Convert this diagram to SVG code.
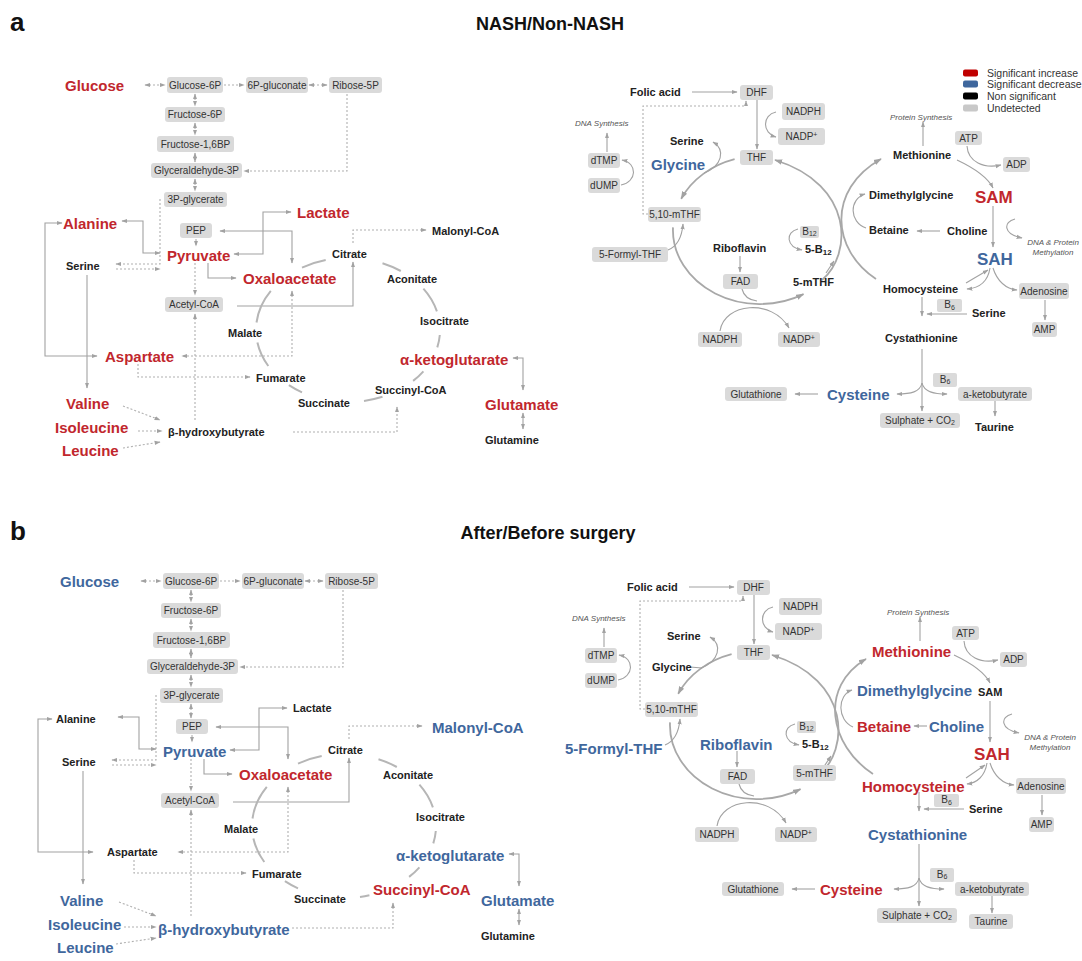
<svg xmlns="http://www.w3.org/2000/svg" width="1082" height="961" viewBox="0 0 1082 961">
<defs>
<style>
text{font-family:"Liberation Sans",Arial,Helvetica,sans-serif;dominant-baseline:central}
.T{font-size:18px;font-weight:700;fill:#111}
.P{font-size:26px;font-weight:700;fill:#111}
.B{font-size:15px;font-weight:700}
.H{font-size:17px;font-weight:700}
.S{font-size:11px;font-weight:700;fill:#222}
.r{fill:#c1272d}
.u{fill:#3f679d}
.bx rect{fill:#dadada}
.bt{font-size:10px;fill:#333;text-anchor:middle}
.it{font-size:8px;font-style:italic;fill:#555}
.lg{font-size:10.5px;fill:#333}
.ln{fill:none;stroke:#a2a2a2;stroke-width:1.1}
.dt{fill:none;stroke:#b0b0b0;stroke-width:1.1;stroke-dasharray:2 2}
.arc{fill:none;stroke:#b6b6b6;stroke-width:2}
.cy{fill:none;stroke:#a8a8a8;stroke-width:1.8}
</style>
<marker id="m" viewBox="0 0 10 10" refX="9" refY="5" markerWidth="6" markerHeight="6" orient="auto-start-reverse" markerUnits="userSpaceOnUse"><path d="M0,1.5L10,5L0,8.5z" fill="#a2a2a2"/></marker>
<marker id="mc" viewBox="0 0 10 10" refX="9" refY="5" markerWidth="8" markerHeight="8" orient="auto-start-reverse" markerUnits="userSpaceOnUse"><path d="M0,1.5L10,5L0,8.5z" fill="#a2a2a2"/></marker>
</defs>
<rect width="1082" height="961" fill="#fff"/>

<!-- titles -->
<text class="P" x="10" y="22">a</text>
<text class="T" x="550" y="24" text-anchor="middle">NASH/Non-NASH</text>
<text class="P" x="10" y="531">b</text>
<text class="T" x="548" y="533" text-anchor="middle">After/Before surgery</text>

<!-- legend -->
<g id="legend">
<rect x="963" y="69.5" width="15" height="7" rx="2" fill="#c00000"/>
<rect x="963" y="80.5" width="15" height="7" rx="2" fill="#3f679d"/>
<rect x="963" y="92.5" width="15" height="7" rx="2" fill="#000"/>
<rect x="963" y="104.5" width="15" height="7" rx="2" fill="#c8c8c8"/>
<text class="lg" x="987" y="73">Significant increase</text>
<text class="lg" x="987" y="84">Significant decrease</text>
<text class="lg" x="987" y="96">Non significant</text>
<text class="lg" x="987" y="108">Undetected</text>
</g>

<!-- ================= PANEL A connectors ================= -->
<g id="a-connectors">
<path class="dt" d="M145,85H165" marker-start="url(#m)" marker-end="url(#m)"/>
<path class="dt" d="M224,85H244" marker-end="url(#m)"/>
<path class="dt" d="M309,85H327" marker-start="url(#m)" marker-end="url(#m)"/>
<path class="dt" d="M195,94V106" marker-start="url(#m)" marker-end="url(#m)"/>
<path class="dt" d="M195,123V135" marker-start="url(#m)" marker-end="url(#m)"/>
<path class="dt" d="M195,153V162" marker-start="url(#m)" marker-end="url(#m)"/>
<path class="dt" d="M195,179V191" marker-start="url(#m)" marker-end="url(#m)"/>
<path class="dt" d="M347,94V171H244" marker-end="url(#m)"/>
<path class="dt" d="M160,199V264H116" marker-end="url(#m)"/>
<path class="dt" d="M116,269H160" marker-end="url(#m)"/>
<path class="dt" d="M196,239V246" marker-end="url(#m)"/>
<path class="ln" d="M122,221H143V253H160" marker-start="url(#m)" marker-end="url(#m)"/>
<path class="ln" d="M62,223H45V356H97" marker-start="url(#m)" marker-end="url(#m)"/>
<path class="ln" d="M234,254H263V212H291" marker-start="url(#m)" marker-end="url(#m)"/>
<path class="ln" d="M220,231H292V263" marker-start="url(#m)" marker-end="url(#m)"/>
<path class="ln" d="M208,263V278H236" marker-end="url(#m)"/>
<path class="dt" d="M195,263V295" marker-end="url(#m)"/>
<path class="ln" d="M237,306H353V262" marker-end="url(#m)"/>
<path class="dt" d="M353,243V230H426" marker-end="url(#m)"/>
<path class="dt" d="M292,291V356H182" marker-start="url(#m)" marker-end="url(#m)"/>
<path class="dt" d="M138,364V377H250" marker-end="url(#m)"/>
<path class="dt" d="M195,420V314" marker-end="url(#m)"/>
<path class="ln" d="M87,275V388" marker-end="url(#m)"/>
<path class="dt" d="M123,406L160,420" marker-end="url(#m)"/>
<path class="dt" d="M138,431H162" marker-end="url(#m)"/>
<path class="dt" d="M123,448L160,442" marker-end="url(#m)"/>
<path class="dt" d="M293,432H397V407" marker-end="url(#m)"/>
<path class="ln" d="M513,358H523V390" marker-start="url(#m)" marker-end="url(#m)"/>
<path class="ln" d="M523,413V429" marker-start="url(#m)" marker-end="url(#m)"/>
<path class="arc" d="M302,267.6A92,72 0 0 1 325.7,260.1"/>
<path class="arc" d="M382.5,263.2A92,72 0 0 1 400.8,271"/>
<path class="arc" d="M423.4,288.7A92,72 0 0 1 436.9,311.4"/>
<path class="arc" d="M439.8,335A92,72 0 0 1 437.3,347.4"/>
<path class="arc" d="M423.4,371.3A92,72 0 0 1 413.1,380.9"/>
<path class="arc" d="M382.5,396.8A92,72 0 0 1 364,400.9"/>
<path class="arc" d="M302,392.4A92,72 0 0 1 288.9,385.2"/>
<path class="arc" d="M268.3,366A92,72 0 0 1 257.4,342.5"/>
<path class="arc" d="M256.5,322.5A92,72 0 0 1 270.8,290.8"/>
<!-- right -->
<path class="ln" d="M692,92H737" marker-end="url(#m)"/>
<path class="ln" d="M757,100V149" marker-end="url(#m)"/>
<path class="ln" d="M776,112C762,115 762,133 776,137" marker-end="url(#m)"/>
<path class="dt" d="M648,214H643V106H746V101" marker-end="url(#m)"/>
<path class="ln" d="M607,152V133" marker-end="url(#m)"/>
<path class="ln" d="M621,185C637,182 638,163 622,160" marker-end="url(#m)"/>
<path class="cy" d="M734.6,159.2A87,74 0 0 0 681.2,198.7" marker-end="url(#mc)"/>
<path class="cy" d="M673,227.4A87,74 0 0 0 803.5,294.1" marker-end="url(#mc)"/>
<path class="cy" d="M822,280C852,255 855,185 775,160" marker-end="url(#mc)"/>
<path class="ln" d="M826,273L834,261" marker-end="url(#m)"/>
<path class="cy" d="M876,279C832,250 826,190 881,159" marker-end="url(#mc)"/>
<path class="ln" d="M704,173C722,166 726,150 713,142" marker-end="url(#m)"/>
<path class="ln" d="M668,250C678,246 682,236 683,224" marker-end="url(#m)"/>
<path class="ln" d="M798,229C785,232 786,247 802,250" marker-end="url(#m)"/>
<path class="ln" d="M740,256V272" marker-end="url(#m)"/>
<path class="ln" d="M742,289C744,297 749,300 757,301"/>
<path class="ln" d="M720,331C724,303 772,298 789,328" marker-end="url(#m)"/>
<path class="ln" d="M923,146V122" marker-end="url(#m)"/>
<path class="ln" d="M967,146C968,162 984,169 1001,165" marker-end="url(#m)"/>
<path class="ln" d="M957,160C974,168 988,178 993,188" marker-end="url(#m)"/>
<path class="ln" d="M993,206V247" marker-end="url(#m)"/>
<path class="ln" d="M1015,219C1003,222 1003,234 1022,238" marker-end="url(#m)"/>
<path class="ln" d="M940,231H917" marker-end="url(#m)"/>
<path class="ln" d="M866,228C849,222 849,199 865,194" marker-end="url(#m)"/>
<path class="ln" d="M990,268C988,281 980,288 967,289" marker-end="url(#m)"/>
<path class="ln" d="M993,268C997,281 1006,289 1017,290" marker-end="url(#m)"/>
<path class="ln" d="M966,283L988,270" marker-end="url(#m)"/>
<path class="ln" d="M1045,300V320" marker-end="url(#m)"/>
<path class="ln" d="M922,297V316" marker-end="url(#m)"/>
<path class="ln" d="M967,314H927" marker-end="url(#m)"/>
<path class="ln" d="M922,349V384"/>
<path class="ln" d="M922,383C920,392 911,394 897,394" marker-end="url(#m)"/>
<path class="ln" d="M922,383C924,392 934,394 947,394" marker-end="url(#m)"/>
<path class="ln" d="M922,384V411" marker-end="url(#m)"/>
<path class="ln" d="M818,394H795" marker-end="url(#m)"/>
<path class="ln" d="M995,401V416" marker-end="url(#m)"/>
</g>

<!-- ================= PANEL A nodes ================= -->
<g id="a-glucose"><text class="B r" x="65" y="85">Glucose</text></g>
<g id="a-g6p" class="bx"><rect x="167" y="77" width="56" height="16" rx="3"/><text class="bt" x="195" y="85">Glucose-6P</text></g>
<g id="a-6pg" class="bx"><rect x="246" y="77" width="62" height="16" rx="3"/><text class="bt" x="277" y="85">6P-gluconate</text></g>
<g id="a-r5p" class="bx"><rect x="329" y="77" width="53" height="16" rx="3"/><text class="bt" x="355.5" y="85">Ribose-5P</text></g>
<g id="a-f6p" class="bx"><rect x="165" y="107" width="60" height="15" rx="3"/><text class="bt" x="195" y="114.5">Fructose-6P</text></g>
<g id="a-f16bp" class="bx"><rect x="157" y="136" width="77" height="16" rx="3"/><text class="bt" x="195.5" y="144">Fructose-1,6BP</text></g>
<g id="a-g3p" class="bx"><rect x="151" y="163" width="91" height="15" rx="3"/><text class="bt" x="196.5" y="170.5">Glyceraldehyde-3P</text></g>
<g id="a-3pg" class="bx"><rect x="164" y="192" width="63" height="15" rx="3"/><text class="bt" x="195.5" y="199.5">3P-glycerate</text></g>
<g id="a-pep" class="bx"><rect x="180" y="223" width="32" height="15" rx="3"/><text class="bt" x="196" y="230.5">PEP</text></g>
<g id="a-acoa" class="bx"><rect x="165" y="297" width="58" height="15" rx="3"/><text class="bt" x="194" y="304.5">Acetyl-CoA</text></g>
<g id="a-alanine"><text class="B r" x="63" y="223">Alanine</text></g>
<g id="a-pyruvate"><text class="B r" x="167" y="255">Pyruvate</text></g>
<g id="a-lactate"><text class="B r" x="297" y="212">Lactate</text></g>
<g id="a-oaa"><text class="B r" x="243" y="278">Oxaloacetate</text></g>
<g id="a-aspartate"><text class="B r" x="105" y="356">Aspartate</text></g>
<g id="a-valine"><text class="B r" x="66" y="403">Valine</text></g>
<g id="a-isoleucine"><text class="B r" x="55" y="427">Isoleucine</text></g>
<g id="a-leucine"><text class="B r" x="62" y="450">Leucine</text></g>
<g id="a-akg"><text class="B r" x="400" y="359">α-ketoglutarate</text></g>
<g id="a-glutamate"><text class="B r" x="485" y="404">Glutamate</text></g>
<g id="a-serine-l"><text class="S" x="66" y="266">Serine</text></g>
<g id="a-citrate"><text class="S" x="332" y="254">Citrate</text></g>
<g id="a-malonyl"><text class="S" x="432" y="231">Malonyl-CoA</text></g>
<g id="a-aconitate"><text class="S" x="387" y="279">Aconitate</text></g>
<g id="a-isocitrate"><text class="S" x="420" y="321">Isocitrate</text></g>
<g id="a-malate"><text class="S" x="228" y="333">Malate</text></g>
<g id="a-fumarate"><text class="S" x="256" y="378">Fumarate</text></g>
<g id="a-succinate"><text class="S" x="298" y="403">Succinate</text></g>
<g id="a-succoa"><text class="S" x="375" y="390">Succinyl-CoA</text></g>
<g id="a-bhb"><text class="S" x="168" y="432">β-hydroxybutyrate</text></g>
<g id="a-glutamine"><text class="S" x="485" y="440">Glutamine</text></g>

<g id="a-folic"><text class="S" x="630" y="92">Folic acid</text></g>
<g id="a-dhf" class="bx"><rect x="740" y="85" width="33" height="15" rx="3"/><text class="bt" x="756.5" y="92.5">DHF</text></g>
<g id="a-nadph1" class="bx"><rect x="782" y="103" width="43" height="17" rx="3"/><text class="bt" x="803.5" y="111.5">NADPH</text></g>
<g id="a-nadp1" class="bx"><rect x="778" y="128" width="47" height="17" rx="3"/><text class="bt" x="801.5" y="136.5">NADP<tspan font-size="7" dy="-3">+</tspan></text></g>
<g id="a-thf" class="bx"><rect x="740" y="150" width="33" height="15" rx="3"/><text class="bt" x="756.5" y="157.5">THF</text></g>
<g id="a-dnasyn"><text class="it" x="575" y="123">DNA Synthesis</text></g>
<g id="a-dtmp" class="bx"><rect x="588" y="153" width="32" height="15" rx="3"/><text class="bt" x="604" y="160.5">dTMP</text></g>
<g id="a-dump" class="bx"><rect x="588" y="178" width="32" height="15" rx="3"/><text class="bt" x="604" y="185.5">dUMP</text></g>
<g id="a-serine-f"><text class="S" x="670" y="141">Serine</text></g>
<g id="a-glycine"><text class="B u" x="651" y="164">Glycine</text></g>
<g id="a-510mthf" class="bx"><rect x="648" y="207" width="53" height="15" rx="3"/><text class="bt" x="674.5" y="214.5">5,10-mTHF</text></g>
<g id="a-5fthf" class="bx"><rect x="592" y="247" width="76" height="15" rx="3"/><text class="bt" x="630" y="254.5">5-Formyl-THF</text></g>
<g id="a-b12" class="bx"><rect x="800" y="226" width="19" height="12" rx="2"/><text class="bt" x="809.5" y="231">B<tspan font-size="7" dy="2">12</tspan></text></g>
<g id="a-5b12"><text class="S" x="805" y="249">5-B<tspan font-size="8" dy="2.5">12</tspan></text></g>
<g id="a-riboflavin"><text class="S" x="713" y="248">Riboflavin</text></g>
<g id="a-fad" class="bx"><rect x="723" y="274" width="35" height="15" rx="3"/><text class="bt" x="740.5" y="281.5">FAD</text></g>
<g id="a-5mthf"><text class="S" x="793" y="282">5-mTHF</text></g>
<g id="a-nadph2" class="bx"><rect x="698" y="332" width="44" height="15" rx="3"/><text class="bt" x="720" y="339.5">NADPH</text></g>
<g id="a-nadp2" class="bx"><rect x="778" y="332" width="42" height="15" rx="3"/><text class="bt" x="799" y="339.5">NADP<tspan font-size="7" dy="-3">+</tspan></text></g>
<g id="a-protsyn"><text class="it" x="890" y="117">Protein Synthesis</text></g>
<g id="a-methionine"><text class="S" x="893" y="155">Methionine</text></g>
<g id="a-atp" class="bx"><rect x="955" y="131" width="27" height="14" rx="3"/><text class="bt" x="968.5" y="138">ATP</text></g>
<g id="a-adp" class="bx"><rect x="1003" y="157" width="27" height="15" rx="3"/><text class="bt" x="1016.5" y="164.5">ADP</text></g>
<g id="a-dmg"><text class="S" x="869" y="195">Dimethylglycine</text></g>
<g id="a-sam"><text class="H r" x="975" y="197">SAM</text></g>
<g id="a-betaine"><text class="S" x="869" y="230">Betaine</text></g>
<g id="a-choline"><text class="S" x="947" y="231">Choline</text></g>
<g id="a-methyl"><text class="it" x="1053" y="242" text-anchor="middle">DNA &amp; Protein</text><text class="it" x="1053" y="252" text-anchor="middle">Methylation</text></g>
<g id="a-sah"><text class="H u" x="977" y="259">SAH</text></g>
<g id="a-hcy"><text class="S" x="883" y="289">Homocysteine</text></g>
<g id="a-adenosine" class="bx"><rect x="1019" y="283" width="50" height="16" rx="3"/><text class="bt" x="1044" y="291">Adenosine</text></g>
<g id="a-amp" class="bx"><rect x="1032" y="322" width="25" height="15" rx="3"/><text class="bt" x="1044.5" y="329.5">AMP</text></g>
<g id="a-b6a" class="bx"><rect x="937" y="299" width="25" height="13" rx="2"/><text class="bt" x="949.5" y="304.5">B<tspan font-size="7" dy="2">6</tspan></text></g>
<g id="a-serine-r"><text class="S" x="972" y="313">Serine</text></g>
<g id="a-cysta"><text class="S" x="885" y="338">Cystathionine</text></g>
<g id="a-b6b" class="bx"><rect x="933" y="373" width="24" height="14" rx="2"/><text class="bt" x="945" y="379">B<tspan font-size="7" dy="2">6</tspan></text></g>
<g id="a-cysteine"><text class="B u" x="827" y="394">Cysteine</text></g>
<g id="a-gsh" class="bx"><rect x="725" y="387" width="62" height="14" rx="3"/><text class="bt" x="756" y="394">Glutathione</text></g>
<g id="a-akb" class="bx"><rect x="958" y="387" width="74" height="14" rx="3"/><text class="bt" x="995" y="394">a-ketobutyrate</text></g>
<g id="a-so4" class="bx"><rect x="880" y="413" width="80" height="15" rx="3"/><text class="bt" x="920" y="420">Sulphate + CO<tspan font-size="7" dy="2">2</tspan></text></g>
<g id="a-taurine"><text class="S" x="975" y="427">Taurine</text></g>

<!-- ================= PANEL B connectors ================= -->
<g id="b-connectors">
<g transform="translate(-4,496)">
<path class="dt" d="M145,85H165" marker-start="url(#m)" marker-end="url(#m)"/>
<path class="dt" d="M224,85H244" marker-end="url(#m)"/>
<path class="dt" d="M309,85H327" marker-start="url(#m)" marker-end="url(#m)"/>
<path class="dt" d="M195,94V106" marker-start="url(#m)" marker-end="url(#m)"/>
<path class="dt" d="M195,123V135" marker-start="url(#m)" marker-end="url(#m)"/>
<path class="dt" d="M195,153V162" marker-start="url(#m)" marker-end="url(#m)"/>
<path class="dt" d="M195,179V191" marker-start="url(#m)" marker-end="url(#m)"/>
<path class="dt" d="M195,208V222" marker-start="url(#m)" marker-end="url(#m)"/>
<path class="dt" d="M347,94V171H244" marker-end="url(#m)"/>
<path class="dt" d="M160,199V264H116" marker-end="url(#m)"/>
<path class="dt" d="M116,269H160" marker-end="url(#m)"/>
<path class="dt" d="M196,239V246" marker-end="url(#m)"/>
<path class="ln" d="M122,221H143V253H160" marker-start="url(#m)" marker-end="url(#m)"/>
<path class="ln" d="M56,223H42V356H97" marker-start="url(#m)" marker-end="url(#m)"/>
<path class="ln" d="M234,254H263V212H291" marker-start="url(#m)" marker-end="url(#m)"/>
<path class="ln" d="M220,231H292V263" marker-start="url(#m)" marker-end="url(#m)"/>
<path class="ln" d="M208,263V278H236" marker-end="url(#m)"/>
<path class="dt" d="M195,263V295" marker-end="url(#m)"/>
<path class="ln" d="M237,306H353V262" marker-end="url(#m)"/>
<path class="dt" d="M353,243V230H426" marker-end="url(#m)"/>
<path class="dt" d="M292,291V356H182" marker-start="url(#m)" marker-end="url(#m)"/>
<path class="dt" d="M138,364V377H250" marker-end="url(#m)"/>
<path class="dt" d="M195,420V314" marker-end="url(#m)"/>
<path class="ln" d="M87,275V388" marker-end="url(#m)"/>
<path class="dt" d="M123,406L160,420" marker-end="url(#m)"/>
<path class="dt" d="M128,431H160" marker-end="url(#m)"/>
<path class="dt" d="M120,448L160,442" marker-end="url(#m)"/>
<path class="dt" d="M296,432H397V407" marker-end="url(#m)"/>
<path class="ln" d="M513,358H523V390" marker-start="url(#m)" marker-end="url(#m)"/>
<path class="ln" d="M523,413V429" marker-start="url(#m)" marker-end="url(#m)"/>
<path class="arc" d="M302,267.6A92,72 0 0 1 325.7,260.1"/>
<path class="arc" d="M382.5,263.2A92,72 0 0 1 400.8,271"/>
<path class="arc" d="M423.4,288.7A92,72 0 0 1 436.9,311.4"/>
<path class="arc" d="M439.8,335A92,72 0 0 1 437.3,347.4"/>
<path class="arc" d="M423.4,371.3A92,72 0 0 1 413.1,380.9"/>
<path class="arc" d="M373.4,399.2A92,72 0 0 1 364,400.9"/>
<path class="arc" d="M302,392.4A92,72 0 0 1 288.9,385.2"/>
<path class="arc" d="M268.3,366A92,72 0 0 1 257.4,342.5"/>
<path class="arc" d="M256.5,322.5A92,72 0 0 1 270.8,290.8"/>
</g>
<g transform="translate(-3,495)">
<path class="ln" d="M692,92H737" marker-end="url(#m)"/>
<path class="ln" d="M757,100V149" marker-end="url(#m)"/>
<path class="ln" d="M776,112C762,115 762,133 776,137" marker-end="url(#m)"/>
<path class="dt" d="M648,214H643V106H746V101" marker-end="url(#m)"/>
<path class="ln" d="M607,152V133" marker-end="url(#m)"/>
<path class="ln" d="M621,185C637,182 638,163 622,160" marker-end="url(#m)"/>
<path class="cy" d="M734.6,159.2A87,74 0 0 0 681.2,198.7" marker-end="url(#mc)"/>
<path class="cy" d="M673,227.4A87,74 0 0 0 803.5,294.1" marker-end="url(#mc)"/>
<path class="cy" d="M822,280C852,255 855,185 775,160" marker-end="url(#mc)"/>
<path class="ln" d="M826,273L834,261" marker-end="url(#m)"/>
<path class="cy" d="M876,279C832,250 822,192 869,164" marker-end="url(#mc)"/>
<path class="ln" d="M693,172L705,173"/>
<path class="ln" d="M704,173C722,166 726,150 713,142" marker-end="url(#m)"/>
<path class="ln" d="M668,250C678,246 682,236 683,224" marker-end="url(#m)"/>
<path class="ln" d="M798,229C785,232 786,247 802,250" marker-end="url(#m)"/>
<path class="ln" d="M740,256V272" marker-end="url(#m)"/>
<path class="ln" d="M742,289C744,297 749,300 757,301"/>
<path class="ln" d="M720,331C724,303 772,298 789,328" marker-end="url(#m)"/>
<path class="ln" d="M923,146V122" marker-end="url(#m)"/>
<path class="ln" d="M967,146C968,162 984,169 1001,165" marker-end="url(#m)"/>
<path class="ln" d="M957,160C974,168 988,178 993,188" marker-end="url(#m)"/>
<path class="ln" d="M993,206V247" marker-end="url(#m)"/>
<path class="ln" d="M1015,219C1003,222 1003,234 1022,238" marker-end="url(#m)"/>
<path class="ln" d="M930,231H917" marker-end="url(#m)"/>
<path class="ln" d="M856,232C840,225 840,200 855,195" marker-end="url(#m)"/>
<path class="ln" d="M990,268C988,281 980,288 970,289" marker-end="url(#m)"/>
<path class="ln" d="M993,268C997,281 1006,289 1017,290" marker-end="url(#m)"/>
<path class="ln" d="M969,283L988,270" marker-end="url(#m)"/>
<path class="ln" d="M1045,300V320" marker-end="url(#m)"/>
<path class="ln" d="M922,297V316" marker-end="url(#m)"/>
<path class="ln" d="M967,314H927" marker-end="url(#m)"/>
<path class="ln" d="M922,349V384"/>
<path class="ln" d="M922,383C920,392 911,394 897,394" marker-end="url(#m)"/>
<path class="ln" d="M922,383C924,392 934,394 947,394" marker-end="url(#m)"/>
<path class="ln" d="M922,384V411" marker-end="url(#m)"/>
<path class="ln" d="M818,394H795" marker-end="url(#m)"/>
<path class="ln" d="M995,401V418" marker-end="url(#m)"/>
</g>
</g>

<!-- ================= PANEL B nodes ================= -->
<g id="b-glucose"><text class="B u" x="60" y="581">Glucose</text></g>
<g id="b-g6p" class="bx"><rect x="163" y="573" width="56" height="16" rx="3"/><text class="bt" x="191" y="581">Glucose-6P</text></g>
<g id="b-6pg" class="bx"><rect x="242" y="573" width="62" height="16" rx="3"/><text class="bt" x="273" y="581">6P-gluconate</text></g>
<g id="b-r5p" class="bx"><rect x="325" y="573" width="53" height="16" rx="3"/><text class="bt" x="351.5" y="581">Ribose-5P</text></g>
<g id="b-f6p" class="bx"><rect x="161" y="603" width="60" height="15" rx="3"/><text class="bt" x="191" y="610.5">Fructose-6P</text></g>
<g id="b-f16bp" class="bx"><rect x="153" y="632" width="77" height="16" rx="3"/><text class="bt" x="191.5" y="640">Fructose-1,6BP</text></g>
<g id="b-g3p" class="bx"><rect x="147" y="659" width="91" height="15" rx="3"/><text class="bt" x="192.5" y="666.5">Glyceraldehyde-3P</text></g>
<g id="b-3pg" class="bx"><rect x="160" y="688" width="63" height="15" rx="3"/><text class="bt" x="191.5" y="695.5">3P-glycerate</text></g>
<g id="b-pep" class="bx"><rect x="176" y="719" width="32" height="15" rx="3"/><text class="bt" x="192" y="726.5">PEP</text></g>
<g id="b-acoa" class="bx"><rect x="161" y="793" width="58" height="15" rx="3"/><text class="bt" x="190" y="800.5">Acetyl-CoA</text></g>
<g id="b-alanine"><text class="S" x="56" y="719">Alanine</text></g>
<g id="b-pyruvate"><text class="B u" x="163" y="751">Pyruvate</text></g>
<g id="b-lactate"><text class="S" x="293" y="708">Lactate</text></g>
<g id="b-malonyl"><text class="B u" x="432" y="727">Malonyl-CoA</text></g>
<g id="b-citrate"><text class="S" x="328" y="750">Citrate</text></g>
<g id="b-serine-l"><text class="S" x="62" y="762">Serine</text></g>
<g id="b-oaa"><text class="B r" x="239" y="774">Oxaloacetate</text></g>
<g id="b-aconitate"><text class="S" x="383" y="775">Aconitate</text></g>
<g id="b-isocitrate"><text class="S" x="416" y="817">Isocitrate</text></g>
<g id="b-malate"><text class="S" x="224" y="829">Malate</text></g>
<g id="b-aspartate"><text class="S" x="107" y="852">Aspartate</text></g>
<g id="b-fumarate"><text class="S" x="252" y="874">Fumarate</text></g>
<g id="b-succinate"><text class="S" x="294" y="899">Succinate</text></g>
<g id="b-akg"><text class="B u" x="396" y="855">α-ketoglutarate</text></g>
<g id="b-succoa"><text class="B r" x="373" y="889">Succinyl-CoA</text></g>
<g id="b-glutamate"><text class="B u" x="481" y="900">Glutamate</text></g>
<g id="b-glutamine"><text class="S" x="481" y="936">Glutamine</text></g>
<g id="b-valine"><text class="B u" x="60" y="900">Valine</text></g>
<g id="b-isoleucine"><text class="B u" x="48" y="924">Isoleucine</text></g>
<g id="b-leucine"><text class="B u" x="57" y="947">Leucine</text></g>
<g id="b-bhb"><text class="B u" x="158" y="929">β-hydroxybutyrate</text></g>

<g id="b-folic"><text class="S" x="627" y="587">Folic acid</text></g>
<g id="b-dhf" class="bx"><rect x="737" y="580" width="33" height="15" rx="3"/><text class="bt" x="753.5" y="587.5">DHF</text></g>
<g id="b-nadph1" class="bx"><rect x="779" y="598" width="43" height="17" rx="3"/><text class="bt" x="800.5" y="606.5">NADPH</text></g>
<g id="b-nadp1" class="bx"><rect x="775" y="623" width="47" height="17" rx="3"/><text class="bt" x="798.5" y="631.5">NADP<tspan font-size="7" dy="-3">+</tspan></text></g>
<g id="b-thf" class="bx"><rect x="737" y="645" width="33" height="15" rx="3"/><text class="bt" x="753.5" y="652.5">THF</text></g>
<g id="b-dnasyn"><text class="it" x="572" y="618">DNA Synthesis</text></g>
<g id="b-dtmp" class="bx"><rect x="585" y="648" width="32" height="15" rx="3"/><text class="bt" x="601" y="655.5">dTMP</text></g>
<g id="b-dump" class="bx"><rect x="585" y="673" width="32" height="15" rx="3"/><text class="bt" x="601" y="680.5">dUMP</text></g>
<g id="b-serine-f"><text class="S" x="667" y="636">Serine</text></g>
<g id="b-glycine"><text class="S" x="652" y="667">Glycine</text></g>
<g id="b-510mthf" class="bx"><rect x="645" y="702" width="53" height="15" rx="3"/><text class="bt" x="671.5" y="709.5">5,10-mTHF</text></g>
<g id="b-5fthf"><text class="B u" x="565" y="748">5-Formyl-THF</text></g>
<g id="b-b12" class="bx"><rect x="797" y="721" width="19" height="12" rx="2"/><text class="bt" x="806.5" y="726">B<tspan font-size="7" dy="2">12</tspan></text></g>
<g id="b-5b12"><text class="S" x="802" y="744">5-B<tspan font-size="8" dy="2.5">12</tspan></text></g>
<g id="b-riboflavin"><text class="B u" x="700" y="744">Riboflavin</text></g>
<g id="b-fad" class="bx"><rect x="720" y="769" width="35" height="15" rx="3"/><text class="bt" x="737.5" y="776.5">FAD</text></g>
<g id="b-5mthf" class="bx"><rect x="793" y="765" width="43" height="16" rx="3"/><text class="bt" x="814.5" y="773">5-mTHF</text></g>
<g id="b-nadph2" class="bx"><rect x="695" y="827" width="44" height="15" rx="3"/><text class="bt" x="717" y="834.5">NADPH</text></g>
<g id="b-nadp2" class="bx"><rect x="775" y="827" width="42" height="15" rx="3"/><text class="bt" x="796" y="834.5">NADP<tspan font-size="7" dy="-3">+</tspan></text></g>
<g id="b-protsyn"><text class="it" x="887" y="612">Protein Synthesis</text></g>
<g id="b-methionine"><text class="B r" x="872" y="651">Methionine</text></g>
<g id="b-atp" class="bx"><rect x="952" y="626" width="27" height="14" rx="3"/><text class="bt" x="965.5" y="633">ATP</text></g>
<g id="b-adp" class="bx"><rect x="1000" y="652" width="27" height="15" rx="3"/><text class="bt" x="1013.5" y="659.5">ADP</text></g>
<g id="b-dmg"><text class="B u" x="857" y="690">Dimethylglycine</text></g>
<g id="b-sam"><text class="S" x="978" y="692">SAM</text></g>
<g id="b-betaine"><text class="B r" x="857" y="726">Betaine</text></g>
<g id="b-choline"><text class="B u" x="929" y="726">Choline</text></g>
<g id="b-methyl"><text class="it" x="1050" y="737" text-anchor="middle">DNA &amp; Protein</text><text class="it" x="1050" y="747" text-anchor="middle">Methylation</text></g>
<g id="b-sah"><text class="H r" x="974" y="754">SAH</text></g>
<g id="b-hcy"><text class="B r" x="862" y="786">Homocysteine</text></g>
<g id="b-adenosine" class="bx"><rect x="1016" y="778" width="50" height="16" rx="3"/><text class="bt" x="1041" y="786">Adenosine</text></g>
<g id="b-amp" class="bx"><rect x="1029" y="817" width="25" height="15" rx="3"/><text class="bt" x="1041.5" y="824.5">AMP</text></g>
<g id="b-b6a" class="bx"><rect x="934" y="794" width="25" height="13" rx="2"/><text class="bt" x="946.5" y="799.5">B<tspan font-size="7" dy="2">6</tspan></text></g>
<g id="b-serine-r"><text class="S" x="969" y="809">Serine</text></g>
<g id="b-cysta"><text class="B u" x="868" y="834">Cystathionine</text></g>
<g id="b-b6b" class="bx"><rect x="930" y="868" width="24" height="14" rx="2"/><text class="bt" x="942" y="874">B<tspan font-size="7" dy="2">6</tspan></text></g>
<g id="b-cysteine"><text class="B r" x="820" y="889">Cysteine</text></g>
<g id="b-gsh" class="bx"><rect x="722" y="882" width="62" height="14" rx="3"/><text class="bt" x="753" y="889">Glutathione</text></g>
<g id="b-akb" class="bx"><rect x="955" y="882" width="74" height="14" rx="3"/><text class="bt" x="992" y="889">a-ketobutyrate</text></g>
<g id="b-so4" class="bx"><rect x="877" y="908" width="80" height="15" rx="3"/><text class="bt" x="917" y="915">Sulphate + CO<tspan font-size="7" dy="2">2</tspan></text></g>
<g id="b-taurine" class="bx"><rect x="969" y="914" width="44" height="15" rx="3"/><text class="bt" x="991" y="921.5">Taurine</text></g>
</svg>
